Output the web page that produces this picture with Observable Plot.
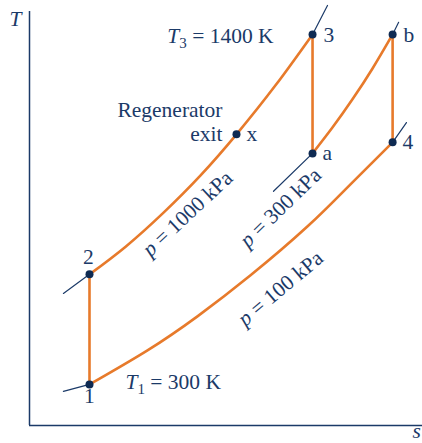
<!DOCTYPE html>
<html><head><meta charset="utf-8">
<script src="https://cdn.jsdelivr.net/npm/d3@7"></script>
<script src="https://cdn.jsdelivr.net/npm/@observablehq/plot@0.6"></script>
<style>
html,body{margin:0;padding:0;background:#fff;}
</style></head><body><div id="chart"></div>
<script>
// State points of the regenerative Brayton cycle with reheat (s in kJ/kg·K, T in K)
const stateNames = ["1", "2", "x", "3", "a", "b", "4"];
const stateS = [1.700, 1.700, 2.359, 2.700, 2.700, 3.059, 3.059];
const stateT = [300, 646, 1086, 1400, 1026, 1400, 1061];

// Constant-pressure lines
const p1000S = [1.700, 1.862, 2.032, 2.198, 2.359, 2.534, 2.700];
const p1000T = [646, 733, 840, 957, 1086, 1240, 1400];
const p300S = [2.700, 2.790, 2.879, 2.969, 3.059];
const p300T = [1026, 1108, 1196, 1293, 1400];
const p100S = [1.700, 1.960, 2.184, 2.422, 2.678, 2.870, 3.059];
const p100T = [300, 407, 514, 643, 797, 929, 1061];

// Isentropic processes (pairs of states)
const isentropes = [["1", "2"], ["3", "a"], ["b", "4"]];

// Short continuations of the isobars beyond the states
const extS = [[1.583, 1.700], [2.700, 2.767], [1.583, 1.700], [3.059, 3.121], [2.525, 2.700], [3.059, 3.086]];
const extT = [[586, 646], [1400, 1491], [278, 300], [1061, 1123], [907, 1026], [1400, 1438]];

// Text
const pressureLabels = ["p = 1000 kPa", "p = 300 kPa", "p = 100 kPa"];
const tempLabels = ["T3 = 1400 K", "T1 = 300 K"];
const axisLabels = ["T", "s"];

// Scales
const sDomain = [1.431, 3.193];
const TDomain = [171, 1472];

const navy = "#1b3a68";
const dotColor = "#0e2a52";
const orange = "#e77a2b";
const FONT = "'Liberation Serif', 'Times New Roman', serif";
const FS = 21.5;

const states = stateNames.map((n, i) => ({name: n, s: stateS[i], T: stateT[i]}));
const byName = Object.fromEntries(states.map(d => [d.name, d]));
const toPts = (S, T, id) => S.map((s, i) => ({s, T: T[i], id}));
const isobars = [...toPts(p1000S, p1000T, "1000"), ...toPts(p300S, p300T, "300"), ...toPts(p100S, p100T, "100")];
const isoLines = isentropes.flatMap(([a, b], k) => [{...byName[a], id: k}, {...byName[b], id: k}]);
const exts = extS.flatMap((S, k) => S.map((s, i) => ({s, T: extT[k][i], id: k})));
const pick = names => states.filter(d => names.includes(d.name));

const txt = {fill: navy, fontSize: FS, lineAnchor: "bottom"};
const rot = {textAnchor: "middle", fill: navy, fontSize: FS, lineAnchor: "middle"};

const chart = Plot.plot({
  width: 422, height: 443,
  marginLeft: 29, marginRight: 0, marginTop: 11, marginBottom: 18,
  x: {domain: sDomain, axis: null},
  y: {domain: TDomain, axis: null},
  style: {fontFamily: FONT, background: "#fff", color: navy, overflow: "visible"},
  marks: [
    Plot.ruleX([sDomain[0]], {stroke: navy, strokeWidth: 1.5}),
    Plot.ruleY([TDomain[0]], {stroke: navy, strokeWidth: 1.5}),
    Plot.line(exts, {x: "s", y: "T", z: "id", stroke: navy, strokeWidth: 1.2}),
    Plot.line(isobars, {x: "s", y: "T", z: "id", stroke: orange, strokeWidth: 2.6, curve: "natural"}),
    Plot.line(isoLines, {x: "s", y: "T", z: "id", stroke: orange, strokeWidth: 2.6}),
    Plot.dot(states, {x: "s", y: "T", r: 4, fill: dotColor, stroke: "none"}),
    // state labels
    Plot.text(pick(["3", "b"]), {x: "s", y: "T", text: "name", textAnchor: "start", dx: 11, dy: 8, ...txt}),
    Plot.text(pick(["x", "a", "4"]), {x: "s", y: "T", text: "name", textAnchor: "start", dx: 10, dy: 6.5, ...txt}),
    Plot.text(pick(["1"]), {x: "s", y: "T", text: "name", textAnchor: "middle", dx: 0, dy: 19, ...txt}),
    Plot.text(pick(["2"]), {x: "s", y: "T", text: "name", textAnchor: "middle", dx: -1, dy: -10, ...txt}),
    Plot.text(pick(["x"]), {x: "s", y: "T", text: () => "Regenerator\nexit", textAnchor: "end", dx: -14, dy: 7, lineHeight: 1.12, ...txt}),
    // temperature annotations
    Plot.text([tempLabels[0]], {x: [byName["3"].s], y: [byName["3"].T], textAnchor: "end", dx: -39, dy: 9, ...txt}),
    Plot.text([tempLabels[1]], {x: [byName["1"].s], y: [byName["1"].T], textAnchor: "start", dx: 36, dy: 5, ...txt}),
    // pressure labels along the isobars
    Plot.text([pressureLabels[0]], {x: [2.1395], y: [837], rotate: -43, ...rot}),
    Plot.text([pressureLabels[1]], {x: [2.5565], y: [856], rotate: -44, ...rot}),
    Plot.text([pressureLabels[2]], {x: [2.5565], y: [602], rotate: -40, ...rot}),
    // axis labels
    Plot.text([axisLabels[0]], {frameAnchor: "top-left", dx: -14, dy: 14, textAnchor: "middle", fontStyle: "italic", ...txt}),
    Plot.text([axisLabels[1]], {frameAnchor: "bottom-right", dx: -10, dy: 12.5, textAnchor: "start", fontStyle: "italic", ...txt})
  ]
});

// italic variables and subscripts
function styleText(el, parts) {
  el.textContent = "";
  for (const p of parts) {
    const t = document.createElementNS("http://www.w3.org/2000/svg", "tspan");
    t.textContent = p.t;
    if (p.it) t.setAttribute("font-style", "italic");
    if (p.fs) t.setAttribute("font-size", p.fs);
    if (p.dy) t.setAttribute("dy", p.dy);
    el.appendChild(t);
  }
}
d3.select(chart).selectAll("text").each(function() {
  const s = this.textContent;
  const m = s.match(/^T(\d) = (.*)$/);
  if (m) {
    styleText(this, [{t: "T", it: true}, {t: m[1], fs: 15, dy: 5}, {t: " = " + m[2], dy: -5}]);
  } else if (s.startsWith("p = ")) {
    styleText(this, [{t: "p", it: true}, {t: s.slice(1)}]);
  }
});

document.getElementById("chart").appendChild(chart);
</script>
</body></html>
